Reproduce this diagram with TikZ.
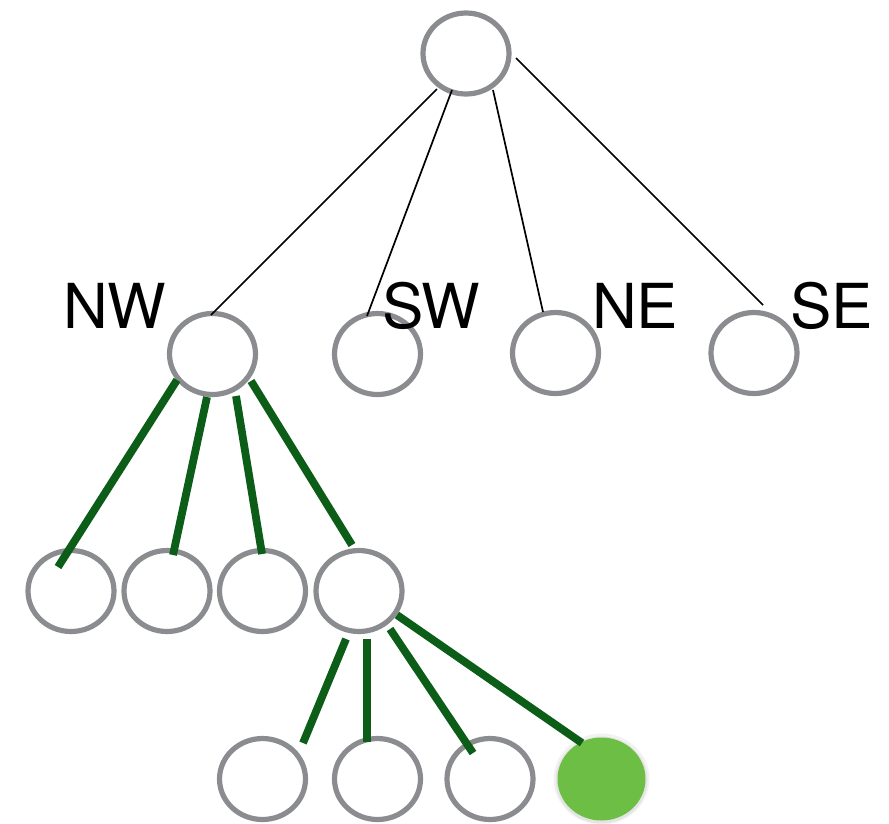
\documentclass[tikz,border=0pt]{standalone}
\usepackage{fontspec}
\setmainfont{TeX Gyre Heros}
\usetikzlibrary{shapes.geometric}
\definecolor{ringgray}{HTML}{8A8C90}
\definecolor{edgegreen}{HTML}{0B5D18}
\definecolor{leafgreen}{HTML}{6DBE45}
\begin{document}
\begin{tikzpicture}[x=1pt,y=-1pt,
  treenode/.style={ellipse, draw=ringgray, line width=5.2pt, fill=white,
    minimum width=86pt, minimum height=81pt, inner sep=0pt, outer sep=0pt},
  foundnode/.style={ellipse, fill=leafgreen, draw=none,
    minimum width=88pt, minimum height=83pt, inner sep=0pt, outer sep=0pt},
  thinedge/.style={draw=black, line width=1.7pt},
  pathedge/.style={draw=edgegreen, line width=7.8pt},
  quadlabel/.style={font=\fontsize{62}{62}\selectfont, inner sep=0pt, anchor=base west}]
\useasboundingbox (0,0) rectangle (889,823);

% root and the four quadrants
\node[treenode] (root) at (466,53.5) {};
\node[treenode] (nw) at (212.5,354) {};
\node[treenode] (sw) at (377.5,354) {};
\node[treenode] (ne) at (555.5,353) {};
\node[treenode] (se) at (754,353) {};

% children of NW
\node[treenode] (a) at (71,591) {};
\node[treenode] (b) at (167,591) {};
\node[treenode] (c) at (262.5,591) {};
\node[treenode] (d) at (359,591) {};

% children of the fourth child
\node[treenode] (e) at (262.5,779) {};
\node[treenode] (f) at (377.5,779) {};
\node[treenode] (g) at (490,779) {};
% soft halo under the highlighted leaf
\fill[black, opacity=0.05] (601.5,779) ellipse (48pt and 45.5pt);
\fill[black, opacity=0.06] (601.5,780) ellipse (46pt and 43.5pt);
\node[foundnode] (h) at (601.5,779) {};

% root edges
\draw[thinedge] ([shift={(-29,35.5)}]root.center) -- ([shift={(-1.5,-39)}]nw.center);
\draw[thinedge] ([shift={(-14,36.5)}]root.center) -- ([shift={(-10.5,-38)}]sw.center);
\draw[thinedge] ([shift={(27,36.5)}]root.center) -- ([shift={(-12.5,-41)}]ne.center);
\draw[thinedge] ([shift={(50,4.5)}]root.center) -- ([shift={(9,-48)}]se.center);

% highlighted edges below NW
\draw[pathedge] ([shift={(-35.5,26)}]nw.center) -- ([shift={(-13,-24)}]a.center);
\draw[pathedge] ([shift={(-5.5,43)}]nw.center) -- ([shift={(6,-36)}]b.center);
\draw[pathedge] ([shift={(23.5,42)}]nw.center) -- ([shift={(-0.5,-37)}]c.center);
\draw[pathedge] ([shift={(38.5,27)}]nw.center) -- ([shift={(-7,-46)}]d.center);

% highlighted edges below the fourth child
\draw[pathedge] ([shift={(-13,48)}]d.center) -- ([shift={(40.5,-36)}]e.center);
\draw[pathedge] ([shift={(8,48)}]d.center) -- ([shift={(-10.5,-37)}]f.center);
\draw[pathedge] ([shift={(31,38)}]d.center) -- ([shift={(-17,-26)}]g.center);
\draw[pathedge] ([shift={(38,24)}]d.center) -- ([shift={(-19.5,-36)}]h.center);

% quadrant labels
\node[quadlabel] (lnw) at (63,328) {NW};
\node[quadlabel] (lsw) at (382,328) {SW};
\node[quadlabel] (lne) at (592,328) {NE};
\node[quadlabel] (lse) at (790,328) {SE};
\end{tikzpicture}
\end{document}
